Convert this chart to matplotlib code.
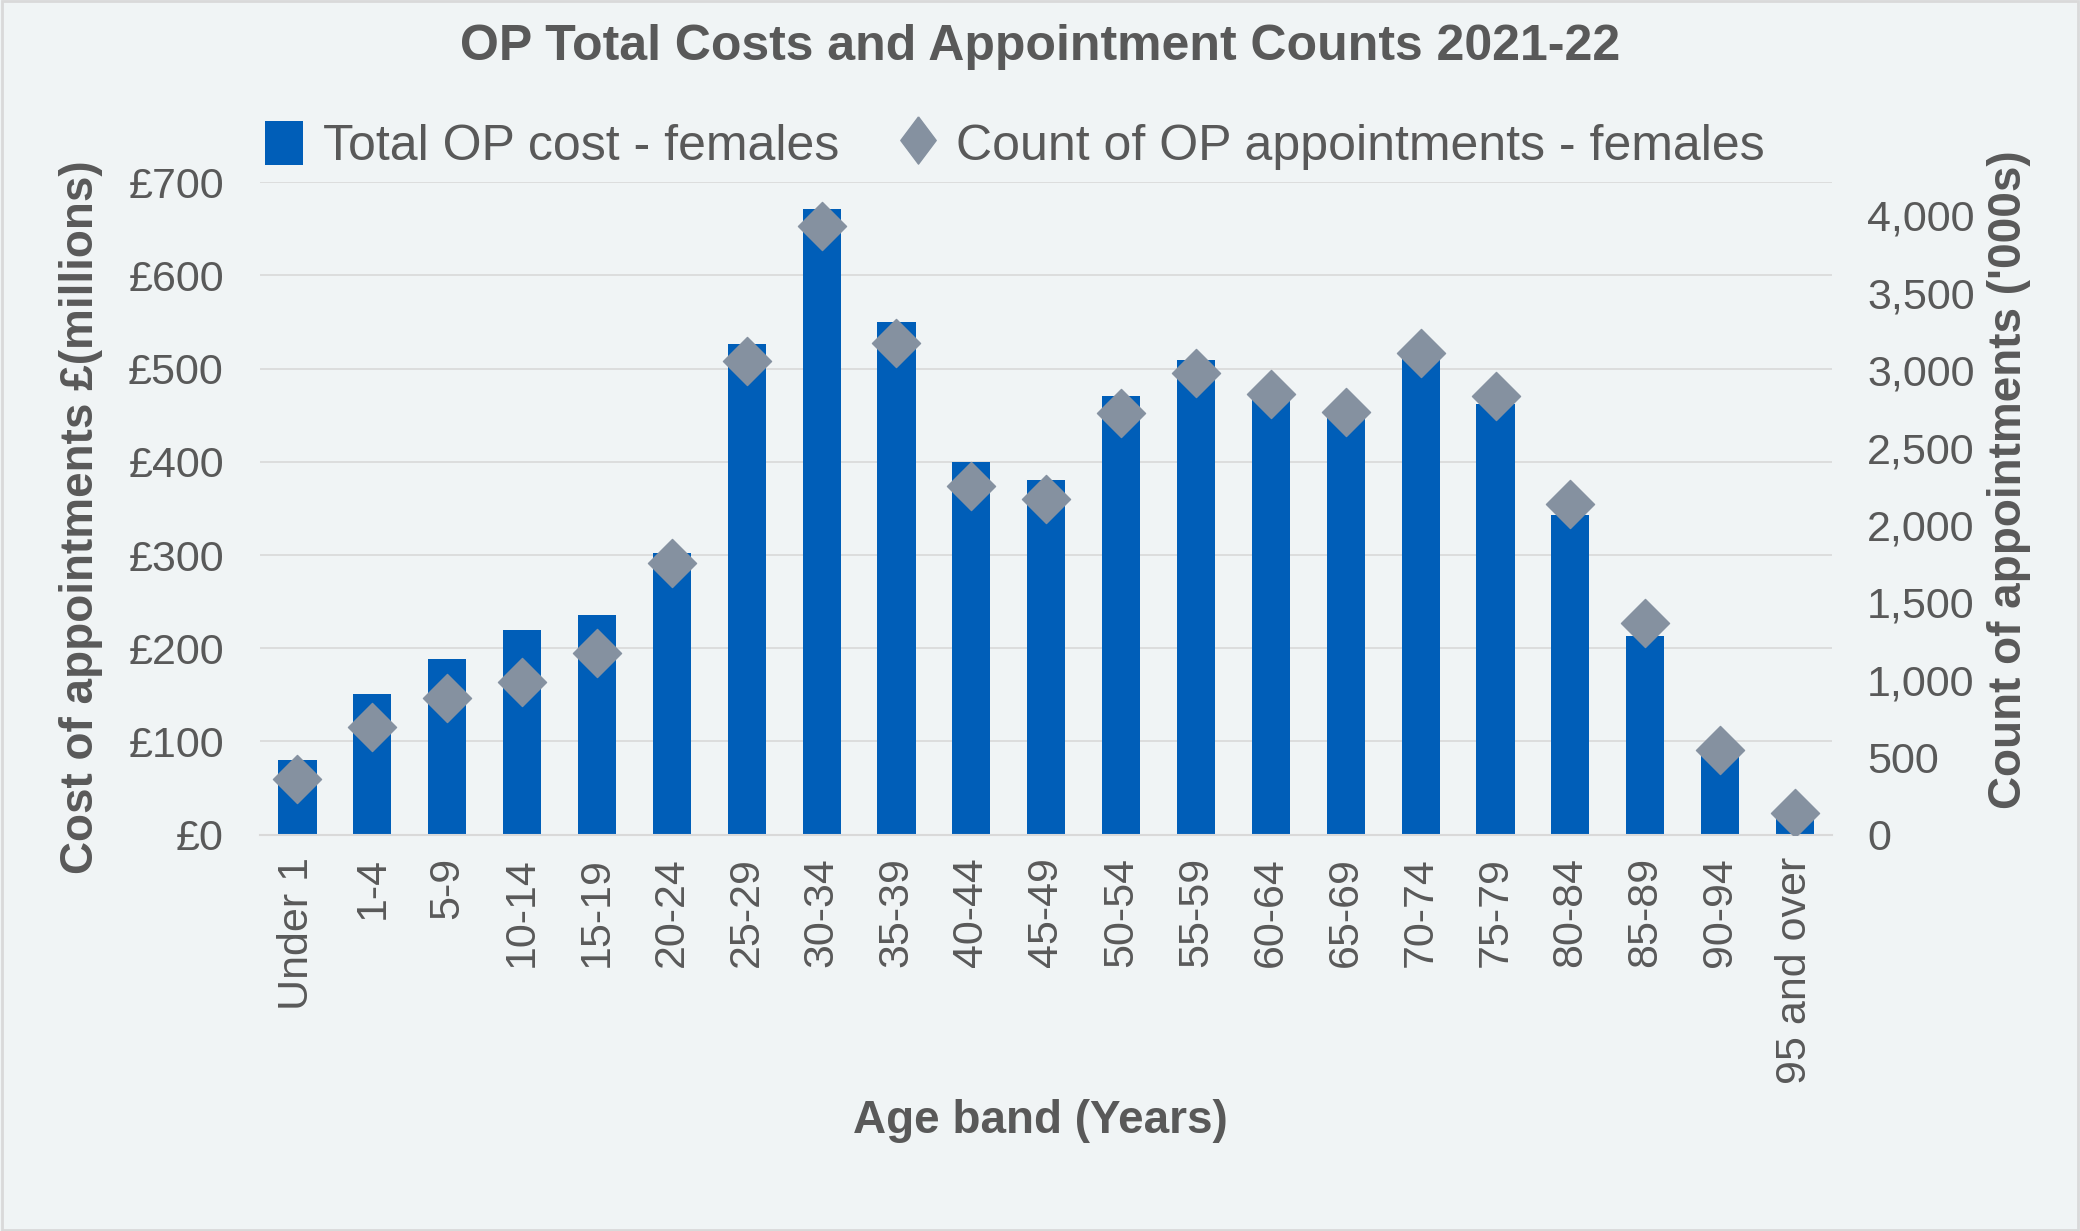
import matplotlib.pyplot as plt
import numpy as np
from matplotlib.ticker import FuncFormatter
from matplotlib.lines import Line2D
from matplotlib.patches import Patch

plt.rcParams['font.family'] = ['Liberation Sans', 'DejaVu Sans']

age_bands = ['Under 1', '1-4', '5-9', '10-14', '15-19', '20-24', '25-29', '30-34',
             '35-39', '40-44', '45-49', '50-54', '55-59', '60-64', '65-69', '70-74',
             '75-79', '80-84', '85-89', '90-94', '95 and over']
cost_millions = [80, 151, 188, 220, 236, 302, 526, 671, 550, 400, 381, 471, 509,
                 478, 455, 515, 462, 343, 213, 84, 22]
appointments_k = [360, 694, 882, 985, 1173, 1756, 3058, 3931, 3178, 2253, 2167,
                  2724, 2981, 2844, 2732, 3109, 2835, 2133, 1370, 548, 137]

bg = '#F0F4F5'
txt = '#595959'
bar_col = '#005EB8'
dia_col = '#8591A0'

fig = plt.figure(figsize=(20.8, 12.31), dpi=100, facecolor=bg)
fig.patches.append(plt.Rectangle((0.001, 0.001), 0.998, 0.998, transform=fig.transFigure,
                                 fill=False, edgecolor='#D9D9D9', linewidth=2))
ax = fig.add_axes([0.125, 0.322, 0.756, 0.530])
ax.set_facecolor(bg)
x = np.arange(len(age_bands))
ax.bar(x, cost_millions, width=0.51, color=bar_col, zorder=2)
ax.set_ylim(0, 700)
ax.set_xlim(-0.5, len(age_bands) - 0.5)
ax.set_yticks(range(0, 701, 100))
ax.yaxis.set_major_formatter(FuncFormatter(lambda v, p: '£%d' % v))
ax.grid(axis='y', color='#D9D9D9', linewidth=1.2, zorder=0)
ax.set_xticks(x)
ax.set_xticklabels(age_bands, rotation=90)
for s in ['top', 'right', 'left']:
    ax.spines[s].set_visible(False)
ax.spines['bottom'].set_color('#D9D9D9')
ax.spines['bottom'].set_linewidth(1.5)
ax.tick_params(axis='y', length=0, labelsize=31, colors=txt, pad=26)
ax.tick_params(axis='x', length=0, labelsize=31, colors=txt, pad=16)
ax.set_ylabel('Cost of appointments £(millions)', fontsize=33, fontweight='bold',
              color=txt)
ax.yaxis.set_label_coords(0.039, 0.58, transform=fig.transFigure)
ax.set_xlabel('Age band (Years)', fontsize=33, fontweight='bold', color=txt)
ax.xaxis.set_label_coords(0.5, 0.089, transform=fig.transFigure)
ax.xaxis.label.set_va('center')
ax.yaxis.label.set_va('center')

ax2 = ax.twinx()
ax2.scatter(x, appointments_k, marker='D', s=600, color=dia_col, zorder=3)
ax2.set_ylim(0, 4214)
ax2.set_yticks(range(0, 4001, 500))
ax2.yaxis.set_major_formatter(FuncFormatter(lambda v, p: '{:,.0f}'.format(v)))
for s in ['top', 'right', 'left', 'bottom']:
    ax2.spines[s].set_visible(False)
ax2.tick_params(axis='y', length=0, labelsize=31, colors=txt, pad=25)
ax2.set_ylabel("Count of appointments ('000s)", fontsize=33, fontweight='bold',
               color=txt, va='center')
ax2.yaxis.set_label_coords(0.966, 0.61, transform=fig.transFigure)

fig.text(0.5, 0.962, 'OP Total Costs and Appointment Counts 2021-22', fontsize=36,
         fontweight='bold', color=txt, ha='center', va='center')

# legend diamond is a bit squashed in the original
leg_diamond = [(0, 1), (0.75, 0), (0, -1), (-0.75, 0), (0, 1)]
handles = [Patch(facecolor=bar_col), Line2D([], [], marker=leg_diamond, linestyle='none',
                                            markersize=34, color=dia_col)]
fig.legend(handles, ['Total OP cost - females', 'Count of OP appointments - females'],
           loc='center', bbox_to_anchor=(0.488, 0.882), ncol=2, frameon=False,
           fontsize=36, labelcolor=txt, handlelength=0.75, handleheight=1.0,
           handletextpad=0.4, columnspacing=1.2)

fig.savefig('out.png', dpi=100, facecolor=bg)
